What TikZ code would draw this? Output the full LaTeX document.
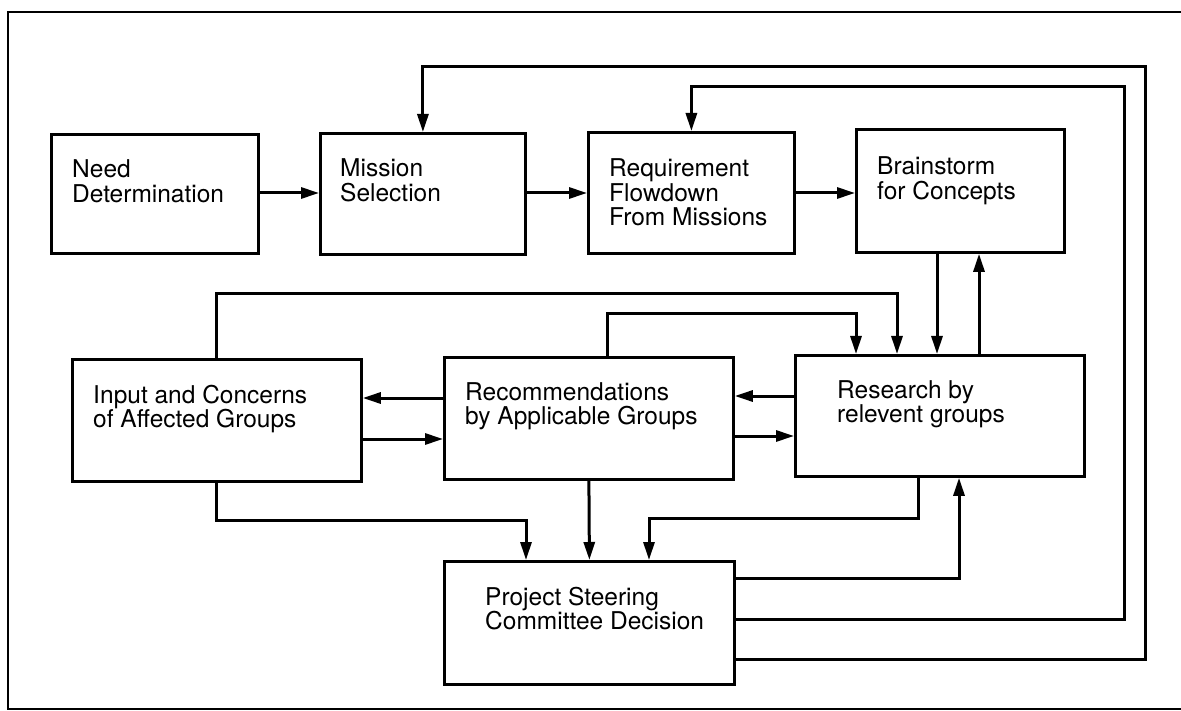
\documentclass[tikz,border=0pt]{standalone}
\usepackage{fontspec}
\setmainfont{TeX Gyre Heros}
\usetikzlibrary{arrows.meta}
\begin{document}
\begin{tikzpicture}[x=1pt,y=-1pt,
  box/.style={draw, line width=2.8pt, rectangle, inner sep=0pt, anchor=north west},
  lbl/.style={anchor=base west, inner sep=0pt, align=left, font=\fontsize{24.5}{24.5}\selectfont},
  arr/.style={line width=3pt, -{Triangle[length=18pt,width=11pt]}},
  frame/.style={line width=2.2pt}]
\useasboundingbox (0,0) rectangle (1181,711);
\begin{scope}
\clip (0,0) rectangle (1181,711);
\draw[frame] (8,12) rectangle (1200,709);
\end{scope}
% boxes
\node[box, minimum width=207pt, minimum height=119pt] (need) at (50,133) {};
\node[box, minimum width=205pt, minimum height=121pt] (mission) at (319,132) {};
\node[box, minimum width=206pt, minimum height=121pt] (req) at (587,131) {};
\node[box, minimum width=208pt, minimum height=123pt] (brain) at (855,128) {};
\node[box, minimum width=289pt, minimum height=122pt] (input) at (71,358) {};
\node[box, minimum width=289pt, minimum height=122pt] (rec) at (443,356) {};
\node[box, minimum width=289pt, minimum height=121pt] (res) at (794,354) {};
\node[box, minimum width=290pt, minimum height=123pt] (psc) at (443,560) {};
% labels (anchor is the baseline of the last line)
\node[lbl] (tneed) at ([shift={(22,69.5)}]need.north west) {Need\\Determination};
\node[lbl] (tmission) at ([shift={(21,69.5)}]mission.north west) {Mission\\Selection};
\node[lbl] (treq) at ([shift={(22,95)}]req.north west) {Requirement\\Flowdown\\From Missions};
\node[lbl] (tbrain) at ([shift={(22,71.5)}]brain.north west) {Brainstorm\\for Concepts};
\node[lbl] (tinput) at ([shift={(22,69.5)}]input.north west) {Input and Concerns\\of Affected Groups};
\node[lbl] (trec) at ([shift={(22,68.5)}]rec.north west) {Recommendations\\by Applicable Groups};
\node[lbl] (tres) at ([shift={(43,68.5)}]res.north west) {Research by\\relevent groups};
\node[lbl] (tpsc) at ([shift={(42,69.5)}]psc.north west) {Project Steering\\Committee Decision};
% helper coordinates
\coordinate (ty) at (0,193);
\coordinate (ob) at (1145,659);
\coordinate (ot) at (1145,67);
\coordinate (ib) at (1124,619);
\coordinate (it) at (1124,87);
\coordinate (pr) at (959,578);
\coordinate (rp) at (918,518);
\coordinate (p3) at (649,518);
\coordinate (ip) at (526,520);
\coordinate (ir) at (897,294);
\coordinate (rrx) at (607,314);
\coordinate (rr) at (856,314);
\coordinate (bx) at (937,300);
\coordinate (ux) at (979,300);
\coordinate (a1) at (760,396);
\coordinate (a2) at (760,436);
\coordinate (a3) at (400,398);
\coordinate (a4) at (400,439);
% top row
\draw[arr] (need.east |- ty) -- (mission.west |- ty);
\draw[arr] (mission.east |- ty) -- (req.west |- ty);
\draw[arr] (req.east |- ty) -- (brain.west |- ty);
% feedback loops
\draw[arr] (psc.east |- ob) -- (ob) -- (ot) -| (mission.north);
\draw[arr] (psc.east |- ib) -- (ib) -- (it) -| (req.north);
\draw[arr] (psc.east |- pr) -| (res.south -| pr);
% brainstorm <-> research
\draw[arr] (brain.south -| bx) -- (res.north -| bx);
\draw[arr] (res.north -| ux) -- (brain.south -| ux);
% into research top
\draw[arr] (input.north) |- (ir) -- (res.north -| ir);
\draw[arr] (rec.north -| rrx) |- (rr) -- (res.north -| rr);
% middle row horizontals
\draw[arr] (res.west |- a1) -- (rec.east |- a1);
\draw[arr] (rec.east |- a2) -- (res.west |- a2);
\draw[arr] (rec.west |- a3) -- (input.east |- a3);
\draw[arr] (input.east |- a4) -- (rec.west |- a4);
% into PSC
\draw[arr] (input.south) |- (ip) -- (psc.north -| ip);
\draw[arr] (rec.south) -- (psc.north);
\draw[arr] (res.south -| rp) -- (rp) -- (p3) -- (psc.north -| p3);
\end{tikzpicture}
\end{document}
